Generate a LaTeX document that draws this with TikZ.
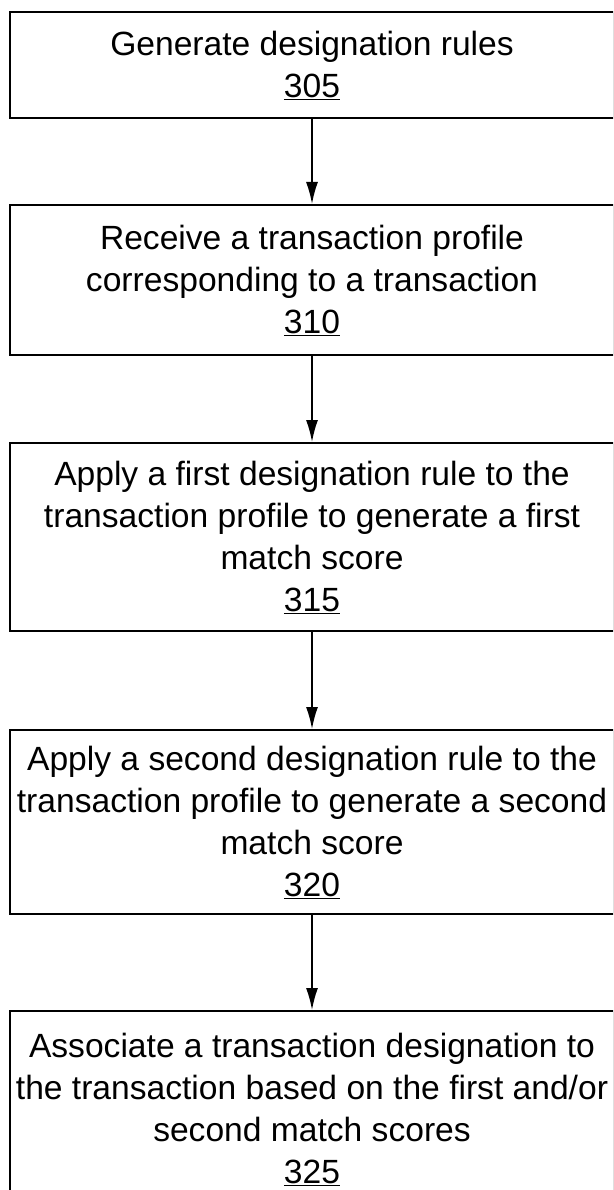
\documentclass[tikz,border=0pt]{standalone}
\usepackage{fontspec}
\setmainfont{Liberation Sans}
\usetikzlibrary{arrows.meta}
\tikzset{
  stepbox/.style={draw, line width=2pt, rectangle, anchor=north,
    minimum width=604pt, align=center, inner sep=0pt,
    font=\fontsize{33.6pt}{42pt}\selectfont},
  flow/.style={line width=1.6pt, -{Latex[length=22pt,width=12pt]}}
}
\begin{document}
\begin{tikzpicture}[x=1pt,y=-1pt]
  \useasboundingbox (0,0) rectangle (613,1190);
  \clip (0,0) rectangle (613,1190);
  \node[stepbox, minimum height=106pt] (s305) at (312,11)
    {Generate designation rules\\\underline{305}};
  \node[stepbox, minimum height=150pt] (s310) at (312,204)
    {Receive a transaction profile\\corresponding to a transaction\\\underline{310}};
  \node[stepbox, minimum height=188pt] (s315) at (312,442)
    {Apply a first designation rule to the\\transaction profile to generate a first\\match score\\\underline{315}};
  \node[stepbox, minimum height=184pt] (s320) at (312,729)
    {Apply a second designation rule to the\\transaction profile to generate a second\\match score\\\underline{320}};
  \node[stepbox, minimum height=196pt] (s325) at (312,1010)
    {Associate a transaction designation to\\the transaction based on the first and/or\\second match scores\\\underline{325}};
  \draw[flow] (s305) -- (s310);
  \draw[flow] (s310) -- (s315);
  \draw[flow] (s315) -- (s320);
  \draw[flow] (s320) -- (s325);
\end{tikzpicture}
\end{document}
